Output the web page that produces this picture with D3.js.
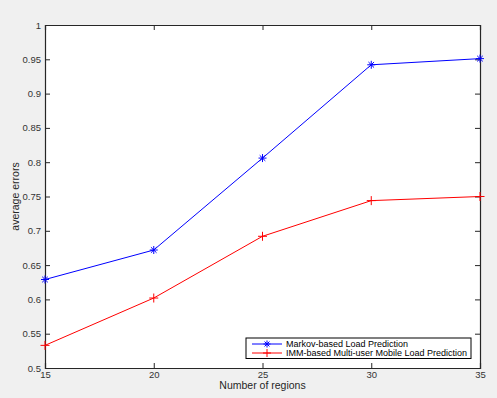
<!DOCTYPE html>
<html>
<head>
<meta charset="utf-8">
<script src="https://cdn.jsdelivr.net/npm/d3@7"></script>
<style>
  body { margin: 0; background: #f0f0f0; }
  svg { display: block; font-family: "Liberation Sans", Arial, Helvetica, sans-serif; }
</style>
</head>
<body>
<svg id="chart"></svg>
<script>
// data
const regions = [15, 20, 25, 30, 35];
const markovErr = [0.629, 0.672, 0.806, 0.942, 0.951];
const immErr = [0.533, 0.602, 0.692, 0.744, 0.750];
const seriesNames = ["Markov-based Load Prediction", "IMM-based Multi-user Mobile Load Prediction"];
const xTicks = [15, 20, 25, 30, 35];
const yTicks = [0.5, 0.55, 0.6, 0.65, 0.7, 0.75, 0.8, 0.85, 0.9, 0.95, 1];

const W = 497, H = 398;
const margin = { top: 25, right: 17, bottom: 30, left: 45 };
const width = W - margin.left - margin.right;
const height = H - margin.top - margin.bottom;

const svg = d3.select("#chart").attr("width", W).attr("height", H);
svg.append("rect").attr("width", W).attr("height", H).attr("fill", "#f0f0f0");

const g = svg.append("g").attr("transform", `translate(${margin.left},${margin.top})`);

const x = d3.scaleLinear().domain([15, 35]).range([0, width]);
const y = d3.scaleLinear().domain([0.5, 1]).range([height, 0]);

g.append("rect").attr("width", width).attr("height", height).attr("fill", "#fff");

const tickLen = 5;
const fmt = d => d3.format("")(+d.toFixed(2));

// bottom axis
g.append("g").attr("transform", `translate(0,${height})`)
  .call(d3.axisBottom(x).tickValues(xTicks).tickSize(-tickLen).tickPadding(3).tickFormat(d3.format("d")));
// top axis, ticks only
g.append("g").call(d3.axisTop(x).tickValues(xTicks).tickSize(-tickLen).tickFormat(""));
// left axis
g.append("g")
  .call(d3.axisLeft(y).tickValues(yTicks).tickSize(-tickLen).tickPadding(4).tickFormat(fmt));
// right axis, ticks only
g.append("g").attr("transform", `translate(${width},0)`)
  .call(d3.axisRight(y).tickValues(yTicks).tickSize(-tickLen).tickFormat(""));

g.selectAll(".domain").attr("stroke", "#262626").attr("stroke-width", 1.2);
g.selectAll(".tick line").attr("stroke", "#262626");
g.selectAll(".tick text").attr("fill", "#333").style("font-size", "9.5px");

// lines
const line = d3.line().x((d, i) => x(regions[i])).y(d => y(d));
g.append("path").datum(markovErr).attr("fill", "none").attr("stroke", "#0000ff").attr("stroke-width", 1).attr("d", line);
g.append("path").datum(immErr).attr("fill", "none").attr("stroke", "#ff0000").attr("stroke-width", 1).attr("d", line);

// markers
function star(sel, cx, cy, r, color) {
  const a = r * 0.7;
  sel.append("path")
    .attr("d", `M${cx - r},${cy}H${cx + r}M${cx},${cy - r}V${cy + r}M${cx - a},${cy - a}L${cx + a},${cy + a}M${cx - a},${cy + a}L${cx + a},${cy - a}`)
    .attr("stroke", color).attr("stroke-width", 1).attr("fill", "none");
}
function plus(sel, cx, cy, r, color) {
  sel.append("path")
    .attr("d", `M${cx - r},${cy}H${cx + r}M${cx},${cy - r}V${cy + r}`)
    .attr("stroke", color).attr("stroke-width", 1).attr("fill", "none");
}
markovErr.forEach((v, i) => star(g, x(regions[i]), y(v), 4, "#0000ff"));
immErr.forEach((v, i) => plus(g, x(regions[i]), y(v), 4.5, "#ff0000"));

// legend
const lg = g.append("g").attr("transform", `translate(${246 - margin.left},${338 - margin.top})`);
lg.append("rect").attr("width", 225).attr("height", 20.5).attr("fill", "#fff").attr("stroke", "#000").attr("stroke-width", 1);
const colors = ["#0000ff", "#ff0000"];
const textLens = [122, 181];
seriesNames.forEach((name, i) => {
  const ly = 6 + i * 9;
  lg.append("line").attr("x1", 6).attr("x2", 36).attr("y1", ly).attr("y2", ly).attr("stroke", colors[i]);
  if (i === 0) star(lg, 21, ly, 3.5, colors[i]); else plus(lg, 21, ly, 4, colors[i]);
  lg.append("text").attr("x", 40).attr("y", ly + 3).attr("fill", "#000")
    .attr("textLength", textLens[i]).attr("lengthAdjust", "spacingAndGlyphs")
    .style("font-size", "8.5px").text(name);
});

// axis labels
svg.append("text").attr("x", margin.left + width / 2).attr("y", 389)
  .attr("text-anchor", "middle").attr("fill", "#262626").style("font-size", "10.5px").text("Number of regions");
svg.append("text").attr("transform", `translate(19,${margin.top + height / 2}) rotate(-90)`)
  .attr("text-anchor", "middle").attr("fill", "#262626").style("font-size", "10.5px").text("average errors");
</script>
</body>
</html>
